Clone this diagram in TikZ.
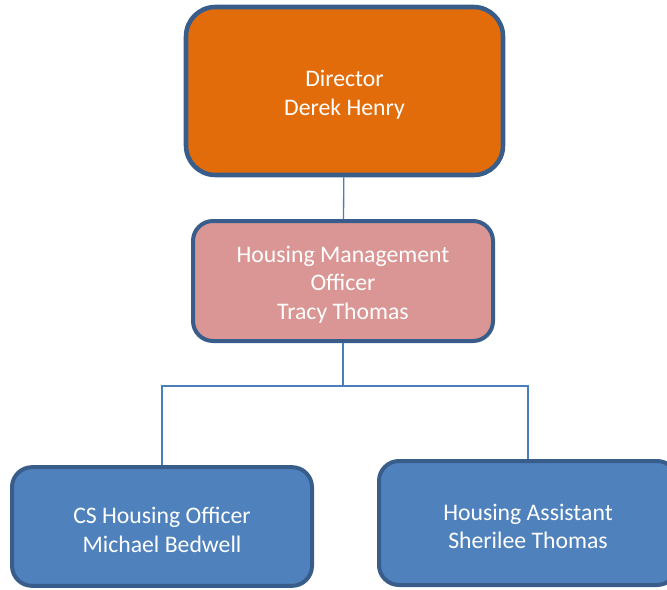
\documentclass[tikz,border=0pt]{standalone}
\usepackage{fontspec}
\setmainfont{Carlito}
\usepackage{xcolor}

\definecolor{dirorange}{RGB}{227,108,10}
\definecolor{hmopink}{RGB}{217,150,148}
\definecolor{staffblue}{RGB}{79,129,189}
\definecolor{edgeblue}{RGB}{56,93,138}
\definecolor{linkblue}{RGB}{74,126,187}

% taller first line, to set the text a little lower in its box
\newcommand{\toplift}{\rule{0pt}{17.5pt}}

\tikzset{
  post/.style={draw=edgeblue, line width=3pt, rounded corners=15pt, text=white,
    align=center, inner sep=0pt, font=\fontsize{17.8}{21.5}\selectfont},
  link/.style={draw=linkblue, line width=1pt}
}

\begin{document}
\begin{tikzpicture}[x=0.75pt,y=0.75pt,yscale=-1,xscale=1]
\useasboundingbox (0,0) rectangle (667,589);

% Boxes
\node (dir) [post, fill=dirorange, rounded corners=22pt, line width=3.4pt,
  minimum width=237.75pt, minimum height=126pt] at (344.5,91) {\toplift Director\\Derek Henry};
\node (hmo) [post, fill=hmopink, minimum width=225pt, minimum height=90pt]
  at (343,281) {\toplift Housing Management\\Officer\\Tracy Thomas};
\node (cs) [post, fill=staffblue, minimum width=225pt, minimum height=89pt]
  at (162,526.5) {\toplift CS Housing Officer\\Michael Bedwell};
\node (ha) [post, fill=staffblue, minimum width=223.5pt, minimum height=93pt]
  at (528,523) {\toplift Housing Assistant\\Sherilee Thomas};

% Connectors
\coordinate (bus) at (343,386);
\draw [link] (dir) -- (hmo);
\draw [link] (hmo) -- (bus);
\draw [link] (cs.north) |- (bus) -| (ha.north);

\end{tikzpicture}
\end{document}
